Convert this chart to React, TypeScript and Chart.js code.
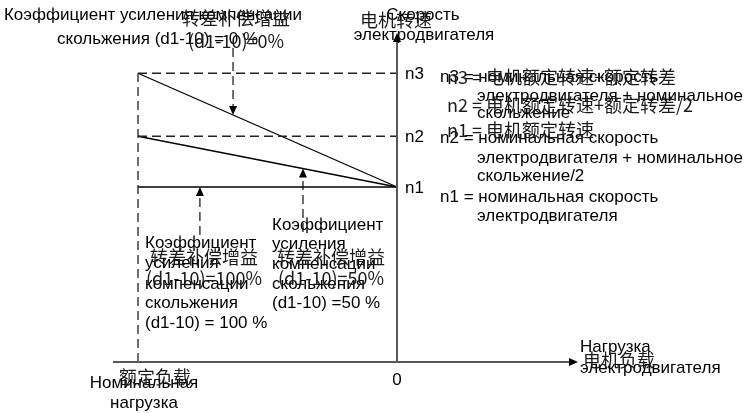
import React, { useEffect, useRef } from "react";
import { Chart, registerables } from "chart.js";

Chart.register(...registerables);

// ---- data ----
// load axis: rated load = -1, zero load = 0
const loadValues = [-1, 0];
// speed levels
const speedTickLabels = ["n1", "n2", "n3"];
const speedValues = [100, 129, 165];
// compensation gains (d1-10) and resulting speed at rated load
const gainLabels = ["100%", "50%", "0%"];
const speedAtRatedLoad = [165, 129, 100];
// annotation arrows: x position (load), shaft start (speed), pointing to line index
const arrowLoads = [-0.633, -0.761, -0.363];
const arrowStarts = [179.4, 72.6, 74.3];
const arrowTargets = [0, 2, 1]; // index into gain lines
// axis extents
const loadAxisRange = [-1.0965, 0.6988];
const speedAxisRange = [0, 188];

// ---- layout (pixels) ----
const RU = '17px "Liberation Sans", Arial, sans-serif';
const ZH = '18px "Noto Sans CJK SC", sans-serif';
type T = [string, number, number, CanvasTextAlign];
const ruTexts: T[] = [
  ["Коэффициент усиления компенсации", 153, 15, "center"],
  ["скольжения (d1-10) = 0 %", 57, 39, "left"],
  ["Скорость", 423, 15, "center"],
  ["электродвигателя", 424, 35, "center"],
  ["n3 = номинальная скорость", 440, 77, "left"],
  ["электродвигателя + номинальное", 477, 96, "left"],
  ["скольжение", 477, 113, "left"],
  ["n2 = номинальная скорость", 440, 138, "left"],
  ["электродвигателя + номинальное", 477, 158, "left"],
  ["скольжение/2", 477, 176, "left"],
  ["n1 = номинальная скорость", 440, 197, "left"],
  ["электродвигателя", 477, 216, "left"],
  ["Коэффициент", 145, 243, "left"],
  ["усиления", 145, 263, "left"],
  ["компенсации", 145, 284, "left"],
  ["скольжения", 145, 303, "left"],
  ["(d1-10) = 100 %", 145, 323, "left"],
  ["Коэффициент", 272, 225, "left"],
  ["усиления", 272, 244, "left"],
  ["компенсации", 272, 264, "left"],
  ["скольжения", 272, 284, "left"],
  ["(d1-10) =50 %", 272, 303, "left"],
  ["Нагрузка", 580, 347, "left"],
  ["электродвигателя", 580, 368, "left"],
  ["Номинальная", 144, 383, "center"],
  ["нагрузка", 144, 403, "center"],
];
const zhTexts: T[] = [
  ["转差补偿增益", 236, 18, "center"],
  ["(d1-10)=0%", 236, 41, "center"],
  ["电机转速", 360, 20, "left"],
  ["n3 = 电机额定转速+额定转差", 447, 77, "left"],
  ["n2 = 电机额定转速+额定转差/2", 447, 105, "left"],
  ["n1 = 电机额定转速", 447, 130, "left"],
  ["转差补偿增益", 150, 257, "left"],
  ["(d1-10)=100%", 146, 278, "left"],
  ["转差补偿增益", 277, 257, "left"],
  ["(d1-10)=50%", 278, 278, "left"],
  ["电机负载", 583, 360, "left"],
  ["额定负载", 155, 377, "center"],
];

function lineAt(i: number, load: number) {
  const y0 = speedAtRatedLoad[i];
  const y1 = speedValues[0];
  const t = (load - loadValues[0]) / (loadValues[1] - loadValues[0]);
  return y0 + (y1 - y0) * t;
}

function head(ctx: CanvasRenderingContext2D, x: number, y: number, ang: number, len = 9, half = 4) {
  ctx.save();
  ctx.translate(x, y);
  ctx.rotate(ang);
  ctx.beginPath();
  ctx.moveTo(0, 0);
  ctx.lineTo(-len, -half);
  ctx.lineTo(-len, half);
  ctx.closePath();
  ctx.fill();
  ctx.restore();
}

const annot = {
  id: "annot",
  afterDatasetsDraw(chart: any) {
    const { ctx, scales } = chart;
    const xs = scales.x, ys = scales.y;
    ctx.save();
    ctx.fillStyle = "#000";
    arrowLoads.forEach((l, k) => {
      const tip = lineAt(arrowTargets[k], l);
      const px = xs.getPixelForValue(l);
      const py = ys.getPixelForValue(tip);
      const down = arrowStarts[k] > tip;
      head(ctx, px, py, down ? Math.PI / 2 : -Math.PI / 2, 9, 4);
    });
    head(ctx, xs.getPixelForValue(loadAxisRange[1]), ys.getPixelForValue(0), 0, 9, 4);
    head(ctx, xs.getPixelForValue(0), ys.getPixelForValue(speedAxisRange[1]), -Math.PI / 2, 9, 4);
    ctx.font = RU;
    ctx.textBaseline = "middle";
    ctx.textAlign = "left";
    speedTickLabels.forEach((s, i) => {
      ctx.fillText(s, xs.getPixelForValue(0) + 8, ys.getPixelForValue(speedValues[i]) + 1);
    });
    ctx.textAlign = "center";
    ctx.fillText("0", xs.getPixelForValue(0), ys.getPixelForValue(0) + 18);
    ruTexts.forEach(([t, x, y, a]) => {
      ctx.font = RU;
      ctx.textAlign = a;
      ctx.fillText(t, x, y);
    });
    ctx.fillStyle = "#1a1a1a";
    zhTexts.forEach(([t, x, y, a]) => {
      ctx.font = ZH;
      ctx.textAlign = a;
      ctx.fillText(t, x, y);
    });
    ctx.restore();
  },
};

export default function App() {
  const ref = useRef<HTMLCanvasElement>(null);
  useEffect(() => {
    document.body.style.margin = "0";
    const pxX = 259, pxY = 1.75;
    const xMin = loadValues[0] - 138 / pxX;
    const xMax = xMin + 752 / pxX;
    const yMax = 362 / pxY;
    const yMin = yMax - 413 / pxY;
    const solid = (data: any[], color = "#000", w = 1.3) => ({
      data, showLine: true, borderColor: color, borderWidth: w, pointRadius: 0, fill: false, clip: false as any,
    });
    const dashed = (data: any[], color = "#222", w = 1.3) => ({
      ...solid(data, color, w), borderDash: [9, 5],
    });
    const rated = loadValues[0], zero = loadValues[1];
    const datasets: any[] = [
      solid([{ x: loadAxisRange[0], y: 0 }, { x: loadAxisRange[1] - 0.02, y: 0 }], "#595959", 2),
      solid([{ x: zero, y: speedAxisRange[0] }, { x: zero, y: speedAxisRange[1] - 3 }], "#595959", 2),
      dashed([{ x: rated, y: 0 }, { x: rated, y: speedValues[2] }]),
      dashed([{ x: rated, y: speedValues[2] }, { x: zero, y: speedValues[2] }]),
      dashed([{ x: rated, y: speedValues[1] }, { x: zero, y: speedValues[1] }]),
      ...speedAtRatedLoad.map((s) => solid([{ x: rated, y: s }, { x: zero, y: speedValues[0] }])),
      ...arrowLoads.map((l, k) => {
        const tip = lineAt(arrowTargets[k], l);
        const down = arrowStarts[k] > tip;
        return dashed([{ x: l, y: arrowStarts[k] }, { x: l, y: tip + (down ? 4 : -4) }], "#222", 1.3);
      }),
    ];
    const chart = new Chart(ref.current!, {
      type: "scatter",
      data: { datasets },
      options: {
        animation: false,
        responsive: false,
        events: [],
        layout: { padding: 0 },
        plugins: { legend: { display: false }, tooltip: { enabled: false }, title: { display: false } },
        scales: {
          x: { type: "linear", display: false, min: xMin, max: xMax },
          y: { type: "linear", display: false, min: yMin, max: yMax },
        },
      },
      plugins: [annot],
    });
    return () => chart.destroy();
  }, []);
  return <canvas ref={ref} width={752} height={413} style={{ display: "block" }} />;
}
